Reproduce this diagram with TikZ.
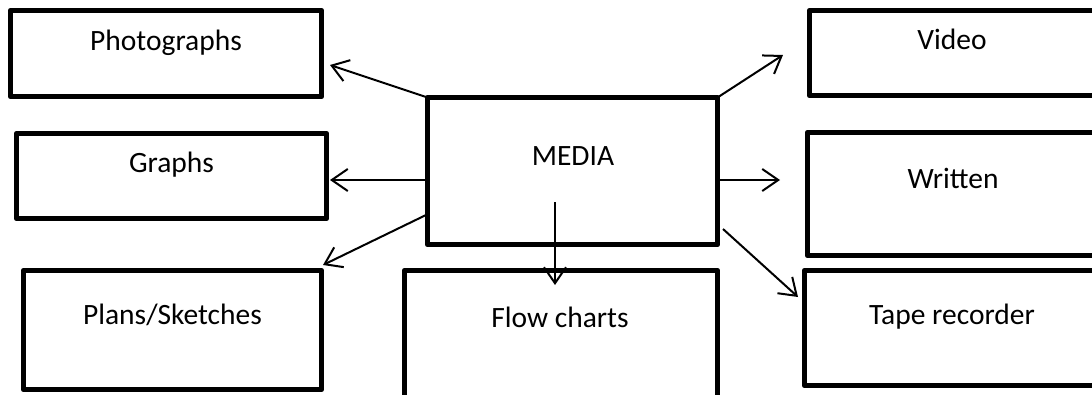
\documentclass[tikz,border=0pt]{standalone}
\usepackage{fontspec}
\setmainfont{Carlito}
\usetikzlibrary{arrows.meta}
\begin{document}
\begin{tikzpicture}[x=1pt,y=-1pt,
  box/.style={draw=black,line width=5.5pt,rectangle,inner sep=0pt,outer sep=0pt,line join=round},
  lbl/.style={anchor=base,inner sep=0pt,font=\fontsize{29.5}{35}\selectfont},
  conn/.style={line width=2pt,-{Straight Barb[length=16pt,width=22pt,line width=2pt]}}]
\useasboundingbox (0,0) rectangle (1092,394);
% boxes
\node[box,minimum width=311pt,minimum height=86pt] (photo) at (166,53.5) {};
\node[box,minimum width=310pt,minimum height=85pt] (graphs) at (171.5,176) {};
\node[box,minimum width=290pt,minimum height=147pt] (media) at (572.5,171) {};
\node[box,minimum width=298pt,minimum height=119pt] (plans) at (172.5,330) {};
\node[box,minimum width=313pt,minimum height=149.5pt] (flow) at (561,345.25) {};
\node[box,minimum width=310.5pt,minimum height=85pt] (video) at (964.75,53) {};
\node[box,minimum width=312.5pt,minimum height=123pt] (written) at (963.75,194) {};
\node[box,minimum width=315.5pt,minimum height=115pt] (tape) at (962.25,328) {};
% labels
\node[lbl] (tphoto) at (166,50) {Photographs};
\node[lbl] (tgraphs) at (171.5,172) {Graphs};
\node[lbl] (tmedia) at (573,165) {MEDIA};
\node[lbl] (tplans) at (172.5,324) {Plans/Sketches};
\node[lbl] (tflow) at (560,327) {Flow charts};
\node[lbl] (tvideo) at (952,49) {Video};
\node[lbl] (twritten) at (953,188) {Written};
\node[lbl] (ttape) at (952,324) {Tape recorder};
% connector ends
\coordinate (sgraphs) at (427,180);
\coordinate (splans) at (426,215);
\coordinate (sflow) at (555,202);
\coordinate (swritten) at (720,180);
\coordinate (stape) at (723,229);
\coordinate (ephoto) at (330,65);
\coordinate (egraphs) at (330,180);
\coordinate (eplans) at (323,265);
\coordinate (eflow) at (555,285);
\coordinate (evideo) at (783,55);
\coordinate (ewritten) at (780,180);
\coordinate (etape) at (798,297);
% connectors
\draw[conn] (media.north west) -- (ephoto);
\draw[conn] (sgraphs) -- (egraphs);
\draw[conn] (splans) -- (eplans);
\draw[conn] (sflow) -- (eflow);
\draw[conn] (media.north east) -- (evideo);
\draw[conn] (swritten) -- (ewritten);
\draw[conn] (stape) -- (etape);
\end{tikzpicture}
\end{document}
